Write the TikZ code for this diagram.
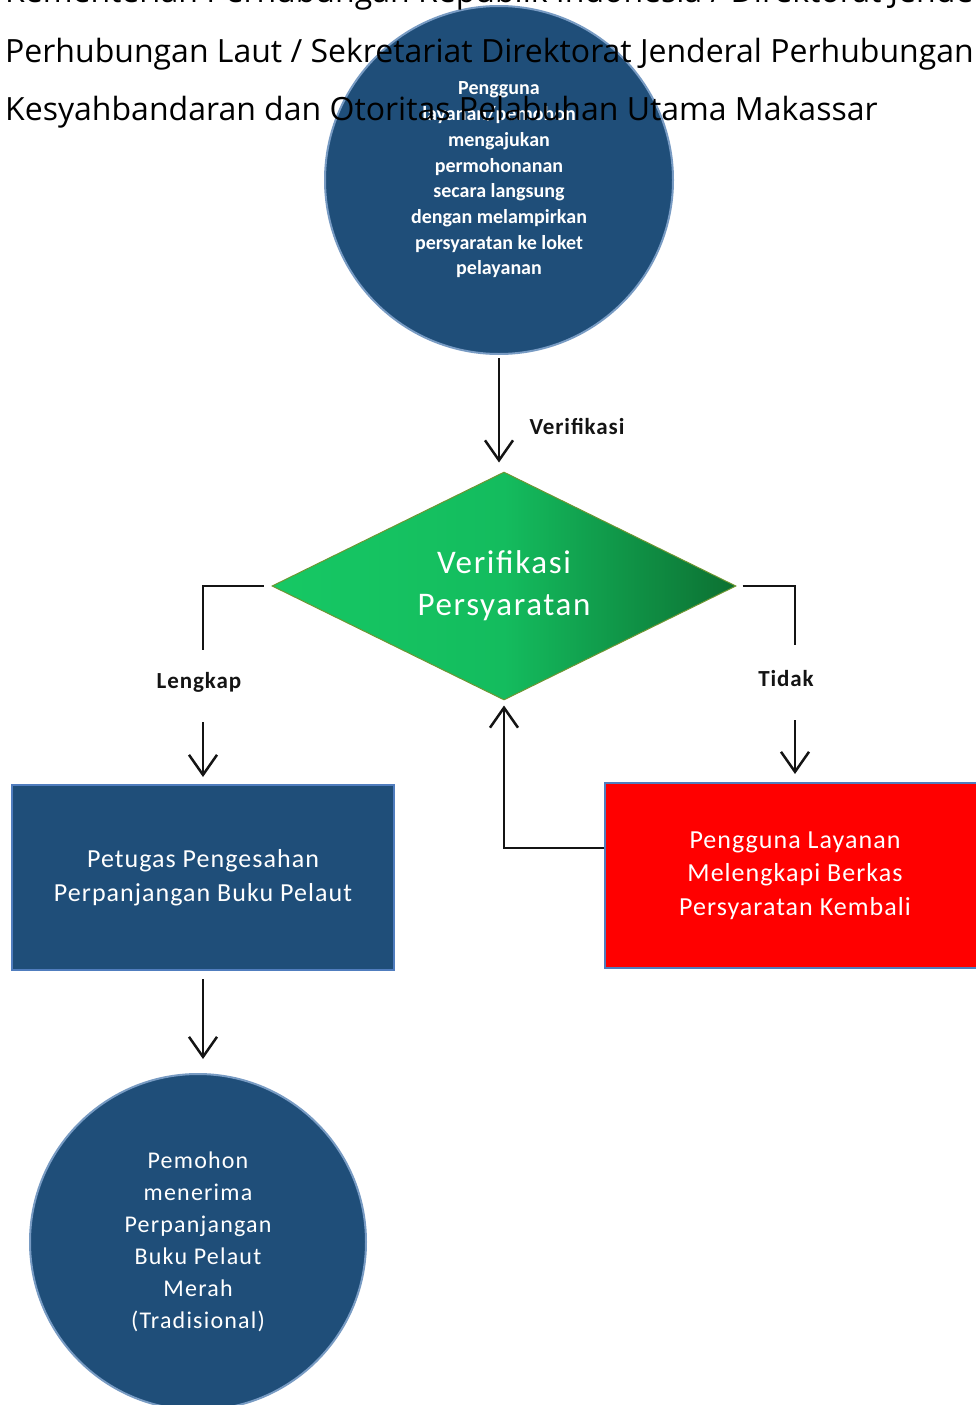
\documentclass[tikz,border=0pt]{standalone}
\usepackage{fontspec}
\setmainfont{Carlito}
\newfontfamily\hdrfont{Open Sans}
\usetikzlibrary{arrows.meta,shapes.geometric}
\definecolor{navy}{RGB}{31,78,121}
\definecolor{navyedge}{RGB}{120,155,195}
\definecolor{gL}{RGB}{22,200,100}
\definecolor{gM}{RGB}{20,188,94}
\definecolor{gR}{RGB}{12,112,50}
\definecolor{gEdge}{RGB}{110,150,50}
\definecolor{redfill}{RGB}{255,0,0}
\definecolor{boxedge}{RGB}{80,125,190}
\definecolor{ink}{RGB}{20,20,20}
\newcommand{\lsp}[1]{\addfontfeatures{LetterSpace=#1}}
\begin{document}
\begin{tikzpicture}[x=1pt,y=-1pt,
 hdr/.style={anchor=base west,inner sep=0,font=\hdrfont\fontsize{32}{39}\selectfont,text=black},
 circ/.style={circle,fill=navy,draw=navyedge,line width=2pt,text=white,align=center,inner sep=0},
 box/.style={rectangle,fill=navy,draw=boxedge,line width=2pt,text=white,align=center,font=\fontsize{26}{33.5}\selectfont\lsp{4},minimum height=185pt,inner sep=0},
 lbl/.style={font=\bfseries\fontsize{23}{25}\selectfont\lsp{4},text=ink,inner sep=0},
 conn/.style={draw=ink,line width=2.5pt},
 arr/.style={conn,-{Straight Barb[length=20pt,width=28pt]}}
]
\useasboundingbox (0,0) rectangle (976,1405);
\clip (0,0) rectangle (976,1405);

\node[circ,minimum size=348pt,font=\bfseries\fontsize{20}{25.7}\selectfont] (c1) at (499,180)
 {Pengguna\\layanan/pemohon\\mengajukan\\permohonanan\\secara langsung\\dengan melampirkan\\persyaratan ke loket\\pelayanan};

\node[diamond,aspect=2.03,minimum width=464pt,minimum height=228pt,inner sep=0,
 left color=gL,right color=gR,middle color=gM,draw=gEdge,line width=1pt,
 text=white,align=center,font=\fontsize{33}{42}\selectfont\lsp{5}] (dia) at (504,586) {Verifikasi\\Persyaratan};

\node[lbl] (vlab) at (577,426) {Verifikasi};
\node[lbl] (lk) at (199,682) {Lengkap};
\node[lbl] (td) at (786,679) {Tidak};

\node[box,minimum width=382pt] (b1) at (203,877.5) {Petugas Pengesahan\\Perpanjangan Buku Pelaut};
\node[box,fill=redfill,minimum width=380pt] (b2) at (795,875.5) {Pengguna Layanan\\Melengkapi Berkas\\Persyaratan Kembali};

\node[circ,minimum size=336pt,font=\fontsize{24}{32}\selectfont\lsp{5}] (c2) at (198,1242)
 {Pemohon\\menerima\\Perpanjangan\\Buku Pelaut\\Merah\\(Tradisional)};

\coordinate (lkA) at (203,650);
\coordinate (lkB) at (203,722);
\coordinate (tdA) at (795,645);
\coordinate (tdB) at (795,720);
\coordinate (fb) at (501,848);

\draw[arr,shorten <=3pt,shorten >=9pt] (c1.south) -- (c1.south |- dia.north);
\draw[conn,shorten <=8pt] (dia.west) -| (lkA);
\draw[arr,shorten >=7pt] (lkB) -- (b1.north);
\draw[conn,shorten <=6pt] (dia.east) -| (tdA);
\draw[arr,shorten >=8pt] (tdB) -- (b2.north);
\draw[arr,shorten >=5pt] (b2.west |- fb) -| (dia.south);
\draw[arr,shorten <=8pt,shorten >=14pt] (b1.south) -- (b1.south |- c2.north);

\node[hdr] (h1) at (5,3) {Kementerian Perhubungan Republik Indonesia / Direktorat Jenderal};
\node[hdr] (h2) at (5,63) {Perhubungan Laut / Sekretariat Direktorat Jenderal Perhubungan};
\node[hdr] (h3) at (5,120) {Kesyahbandaran dan Otoritas Pelabuhan Utama Makassar};
\end{tikzpicture}
\end{document}
